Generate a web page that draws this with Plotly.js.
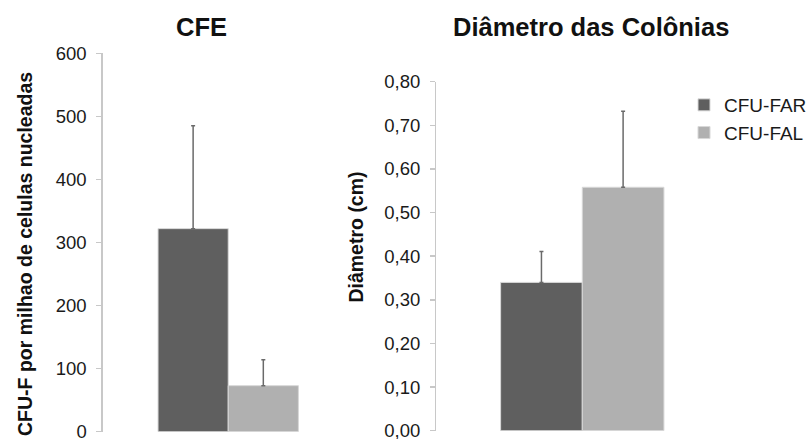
<!DOCTYPE html>
<html>
<head>
<meta charset="utf-8">
<script src="https://cdn.plot.ly/plotly-3.0.1.min.js"></script>
<style>html,body{margin:0;padding:0;background:#fff;}#chart{width:812px;height:439px;}</style>
</head>
<body>
<div id="chart"></div>
<script>
// ---- data ----
var seriesNames = ['CFU-FAR', 'CFU-FAL'];
var cfeCategory = ['CFE'];
var diamCategory = ['Diâmetro'];
var cfeFAR = [322];
var cfeFAL = [73];
var cfeErrFAR = [163];
var cfeErrFAL = [41];
var diamFAR = [0.34];
var diamFAL = [0.558];
var diamErrFAR = [0.071];
var diamErrFAL = [0.174];
var titles = ['CFE', 'Diâmetro das Colônias'];
var yTitles = ['CFU-F por milhao de celulas nucleadas', 'Diâmetro (cm)'];

var colors = ['#5f5f5f', '#b0b0b0'];
var FONT = '"Liberation Sans", Arial, sans-serif';

function err(arr) {
  return {type: 'data', array: arr, arrayminus: arr.map(function(){return 0;}), symmetric: false,
          color: '#6a6a6a', thickness: 1.5, width: 2};
}
function bar(x, y, e, i, xa, ya, show) {
  return {type: 'bar', x: x, y: y, name: seriesNames[i], xaxis: xa, yaxis: ya,
          marker: {color: colors[i], line: {color: '#d8d8d8', width: 1}},
          error_y: err(e), showlegend: show, hoverinfo: 'none'};
}

var traces = [
  bar(cfeCategory, cfeFAR, cfeErrFAR, 0, 'x', 'y', false),
  bar(cfeCategory, cfeFAL, cfeErrFAL, 1, 'x', 'y', false),
  bar(diamCategory, diamFAR, diamErrFAR, 0, 'x2', 'y2', true),
  bar(diamCategory, diamFAL, diamErrFAL, 1, 'x2', 'y2', true)
];

function W(px){return px/812;}
function H(py){return 1 - py/439;}

var yCommon = {
  showline: true, linecolor: '#c8c8c8', linewidth: 1.5,
  ticks: 'outside', ticklen: 5, tickcolor: '#c8c8c8', tickwidth: 1.5,
  showgrid: false, zeroline: false,
  tickfont: {family: FONT, size: 18.5, color: '#1a1a1a'},
  ticklabelstandoff: 6, ticklabeloverflow: 'allow'
};
var xCommon = {showline: false, showticklabels: false, ticks: '', showgrid: false, zeroline: false, fixedrange: true};

var layout = {
  width: 812, height: 439,
  margin: {l: 0, r: 0, t: 0, b: 0},
  paper_bgcolor: '#ffffff', plot_bgcolor: '#ffffff',
  separators: ',.',
  barmode: 'group', bargap: 0.44, bargroupgap: 0,
  font: {family: FONT, color: '#1a1a1a'},
  xaxis: Object.assign({domain: [W(103), W(354)], anchor: 'y'}, xCommon),
  xaxis2: Object.assign({domain: [W(437), W(729)], anchor: 'y2'}, xCommon),
  yaxis: Object.assign({domain: [H(431.7), H(53.3)], range: [0, 600], dtick: 100, tick0: 0, anchor: 'x'}, yCommon),
  yaxis2: Object.assign({domain: [H(430.7), H(81.7)], range: [0, 0.8], dtick: 0.1, tick0: 0, tickformat: '.2f', anchor: 'x2'}, yCommon),
  showlegend: true,
  legend: {x: W(685), y: H(86), xanchor: 'left', yanchor: 'top', itemwidth: 30, tracegroupgap: 0,
           font: {family: FONT, size: 19, color: '#1a1a1a'}, bgcolor: 'rgba(0,0,0,0)'},
  annotations: [
    {text: '<b>' + titles[0] + '</b>', xref: 'paper', yref: 'paper', x: W(202), y: H(27),
     xanchor: 'center', yanchor: 'middle', showarrow: false, font: {family: FONT, size: 25.5, color: '#111'}},
    {text: '<b>' + titles[1] + '</b>', xref: 'paper', yref: 'paper', x: W(592), y: H(27),
     xanchor: 'center', yanchor: 'middle', showarrow: false, font: {family: FONT, size: 25.5, color: '#111'}},
    {text: '<b>' + yTitles[0] + '</b>', xref: 'paper', yref: 'paper', x: W(25), y: H(254),
     xanchor: 'center', yanchor: 'middle', textangle: -90, showarrow: false, font: {family: FONT, size: 19.5, color: '#111'}},
    {text: '<b>' + yTitles[1] + '</b>', xref: 'paper', yref: 'paper', x: W(356), y: H(237),
     xanchor: 'center', yanchor: 'middle', textangle: -90, showarrow: false, font: {family: FONT, size: 19.5, color: '#111'}}
  ]
};

Plotly.newPlot('chart', traces, layout, {staticPlot: true, displayModeBar: false});
</script>
</body>
</html>
